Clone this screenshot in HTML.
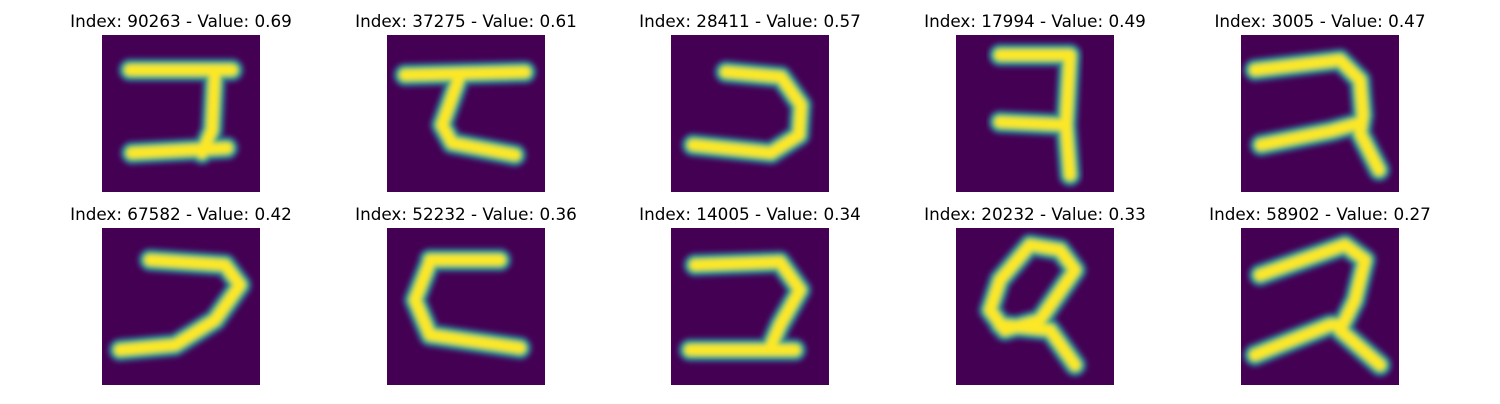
<!DOCTYPE html>
<html><head><meta charset="utf-8"><style>
body{margin:0;background:#fff;width:1500px;height:400px;overflow:hidden;font-family:"DejaVu Sans","Liberation Sans",sans-serif}
</style></head><body>
<svg id="fig" width="1500" height="400" xmlns="http://www.w3.org/2000/svg">
<defs><filter id="blur" x="-20%" y="-20%" width="140%" height="140%"><feGaussianBlur stdDeviation="2.5"/></filter>
<clipPath id="clip"><rect x="0" y="0" width="158" height="157"/></clipPath></defs>
</svg>
<script>
const indices=[90263,37275,28411,17994,3005,67582,52232,14005,20232,58902];
const values=[0.69,0.61,0.57,0.49,0.47,0.42,0.36,0.34,0.33,0.27];
const strokes=[
 [[[28,35],[130,35]],[[113,35],[110,95],[100,118]],[[30,118],[125,113]]],
 [[[18,40],[138,37]],[[73,40],[55,90],[65,108],[128,120]]],
 [[[55,37],[110,42],[130,70],[128,100],[100,118],[22,110]]],
 [[[44,20],[114,20],[110,90],[114,140]],[[44,87],[110,90]]],
 [[[14,35],[99,25],[119,45],[122,80],[119,98],[138,135]],[[20,110],[90,96],[119,88]]],
 [[[48,32],[123,37],[138,57],[113,92],[73,117],[18,122]]],
 [[[43,32],[113,32]],[[43,34],[28,72],[43,107],[133,120]]],
 [[[24,37],[109,34],[129,62],[109,97],[99,120]],[[19,122],[124,122]]],
 [[[104,22],[74,17],[44,52],[34,82],[49,102],[84,92],[119,42],[104,22]],[[44,97],[94,102],[119,137]]],
 [[[19,47],[104,17],[124,32],[114,72],[99,102],[139,137]],[[14,127],[89,97],[99,97]]]
];
const NS="http://www.w3.org/2000/svg";
const fig=document.getElementById('fig');
const colX=[102,387,671,956,1241], rowY=[35,228];
for(let i=0;i<10;i++){
 const x0=colX[i%5], y0=rowY[Math.floor(i/5)];
 const t=document.createElementNS(NS,'text');
 
 
 t.setAttribute('x',x0+79);t.setAttribute('y',y0-8);t.setAttribute('text-anchor','middle');
 t.setAttribute('font-size','16.8');t.textContent='Index: '+indices[i]+' - Value: '+values[i].toFixed(2);
 fig.appendChild(t);
 const g=document.createElementNS(NS,'g');
 
 
 g.setAttribute('transform','translate('+x0+','+y0+')');g.setAttribute('clip-path','url(#clip)');
 const r=document.createElementNS(NS,'rect');r.setAttribute('width',158);r.setAttribute('height',157);r.setAttribute('fill','#440154');
 g.appendChild(r);
 const ink=document.createElementNS(NS,'g');ink.setAttribute('filter','url(#blur)');
 [['#3b528b',24],['#21918c',19],['#5ec962',14],['#fde725',10]].forEach(([c,w])=>{
  strokes[i].forEach(s=>{
   const p=document.createElementNS(NS,'polyline');
   
   
   p.setAttribute('points',s.map(q=>q.join(',')).join(' '));
   p.setAttribute('fill','none');p.setAttribute('stroke',c);p.setAttribute('stroke-width',w);
   p.setAttribute('stroke-linecap','round');p.setAttribute('stroke-linejoin','round');
   ink.appendChild(p);
  });
 });
 g.appendChild(ink);fig.appendChild(g);
}
</script>
</body></html>
